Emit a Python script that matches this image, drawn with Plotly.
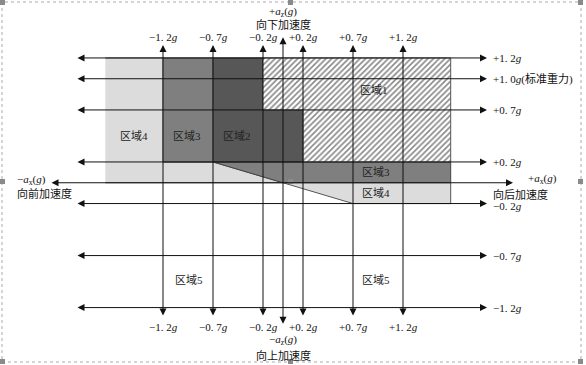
import plotly.graph_objects as go

# ---------------- data (in units of g) ----------------
h_levels = [1.2, 1.0, 0.7, 0.2, -0.2, -0.7, -1.2]
h_labels = ["+1. 2<i>g</i>", "+1. 0<i>g</i>(标准重力)", "+0. 7<i>g</i>", "+0. 2<i>g</i>",
            "−0. 2<i>g</i>", "−0. 7<i>g</i>", "−1. 2<i>g</i>"]
v_levels = [-1.2, -0.7, -0.2, 0.2, 0.7, 1.2]
v_labels = ["−1. 2<i>g</i>", "−0. 7<i>g</i>", "−0. 2<i>g</i>", "+0. 2<i>g</i>",
            "+0. 7<i>g</i>", "+1. 2<i>g</i>"]

region1_x = [-0.2, 1.677, 1.677, 0.2, 0.2, -0.2]
region1_y = [1.2, 1.2, 0.2, 0.2, 0.7, 0.7]
region2_x = [-0.7, -0.2, -0.2, 0.2, 0.2, -0.7]
region2_y = [1.2, 1.2, 0.7, 0.7, 0.2, 0.2]
region3_x = [-1.2, -0.7, -0.7, 1.677, 1.677, 0, -0.7, -1.2]
region3_y = [1.2, 1.2, 0.2, 0.2, 0, 0, 0.2, 0.2]
region4_x = [-1.777, -1.2, -1.2, -0.7, 0, -1.777, None, 0, 0.7, 1.677, 1.677]
region4_y = [1.2, 1.2, 0.2, 0.2, 0, 0, None, 0, -0.2, -0.2, 0]

region_names = ["区域1", "区域2", "区域3", "区域4", "区域3", "区域4", "区域5", "区域5"]
region_lx = [0.91, -0.46, -0.96, -1.49, 0.93, 0.93, -0.94, 0.93]
region_ly = [0.89, 0.45, 0.45, 0.45, 0.1, -0.1, -0.935, -0.935]

# ---------------- figure ----------------
W, H = 586, 365
XR = [-2.83, 3.03]
YR = [-1.752, 1.757]
FONT_LAT = "Liberation Serif, Noto Sans CJK SC"

fig = go.Figure()

fig.add_trace(go.Scatter(x=region4_x, y=region4_y, fill="toself", mode="lines",
                         fillcolor="#dcdcdc", line=dict(color="#555", width=1),
                         hoverinfo="skip"))
fig.add_trace(go.Scatter(x=region3_x, y=region3_y, fill="toself", mode="lines",
                         fillcolor="#7f7f7f", line=dict(color="#444", width=1),
                         hoverinfo="skip"))
fig.add_trace(go.Scatter(x=region2_x, y=region2_y, fill="toself", mode="lines",
                         fillcolor="#575757", line=dict(color="#333", width=1),
                         hoverinfo="skip"))
fig.add_trace(go.Scatter(x=region1_x, y=region1_y, fill="toself", mode="lines",
                         fillcolor="white",
                         fillpattern=dict(shape="/", fgcolor="#111", bgcolor="white",
                                          size=4, solidity=0.4),
                         line=dict(color="#555", width=1), hoverinfo="skip"))

ann = []


def arrow_line(x0, y0, x1, y1, w=1.0):
    ann.append(dict(x=x1, y=y1, ax=x0, ay=y0, xref="x", yref="y", axref="x", ayref="y",
                    text="", showarrow=True, arrowhead=2, arrowside="end+start",
                    arrowsize=1.4, arrowwidth=w, arrowcolor="#111",
                    standoff=0, startstandoff=0))


# horizontal lines with labels
for lv, lb in zip(h_levels, h_labels):
    arrow_line(-2.07, lv, 2.04, lv)
    ly = lv - 0.025 if lv == -0.2 else lv
    ann.append(dict(x=2.08, y=ly, xref="x", yref="y", text=lb, showarrow=False,
                    xanchor="left", yanchor="middle",
                    font=dict(family=FONT_LAT, size=11, color="#111")))

# vertical lines with labels
for lv, lb in zip(v_levels, v_labels):
    arrow_line(lv, -1.29, lv, 1.325)
    for yy in (1.40, -1.387):
        ann.append(dict(x=lv, y=yy, xref="x", yref="y", text=lb, showarrow=False,
                        xanchor="center", yanchor="middle",
                        font=dict(family=FONT_LAT, size=11, color="#111")))

# main axes
arrow_line(-2.33, 0, 2.30, 0)
arrow_line(0, -1.37, 0, 1.40)

# axis titles
axis_texts = [
    (0, 1.642, "+<i>a</i><sub>z</sub>(<i>g</i>)", "center"),
    (0, 1.517, "向下加速度", "center"),
    (0, -1.512, "−<i>a</i><sub>z</sub>(<i>g</i>)", "center"),
    (0, -1.656, "向上加速度", "center"),
    (-2.68, 0.03, "−<i>a</i><sub>x</sub>(<i>g</i>)", "left"),
    (-2.68, -0.10, "向前加速度", "left"),
    (2.59, 0.04, "+<i>a</i><sub>x</sub>(<i>g</i>)", "center"),
    (2.37, -0.11, "向后加速度", "center"),
]
for x, y, t, xa in axis_texts:
    ann.append(dict(x=x, y=y, xref="x", yref="y", text=t, showarrow=False,
                    xanchor=xa, yanchor="middle",
                    font=dict(family=FONT_LAT, size=11, color="#111")))

# region labels
for n, x, y in zip(region_names, region_lx, region_ly):
    ann.append(dict(x=x, y=y, xref="x", yref="y", text=n, showarrow=False,
                    xanchor="center", yanchor="middle",
                    font=dict(family=FONT_LAT, size=11, color="#222")))

# decorative dashed frame with selection handles (paper coords)
shapes = [dict(type="rect", xref="paper", yref="paper",
               x0=2 / W, x1=581 / W, y0=1 - 362 / H, y1=1 - 2 / H,
               line=dict(color="#aaa", width=1, dash="dot"))]
for hx in (0, 288, 578):
    for hy in (0, 179, 359):
        shapes.append(dict(type="rect", xref="paper", yref="paper",
                           x0=hx / W, x1=(hx + 5) / W,
                           y0=1 - (hy + 5) / H, y1=1 - hy / H,
                           fillcolor="#8a8a8a", line=dict(width=0)))

fig.update_layout(
    width=W, height=H, autosize=False,
    margin=dict(l=0, r=0, t=0, b=0),
    paper_bgcolor="white", plot_bgcolor="white",
    showlegend=False,
    xaxis=dict(range=XR, visible=False, fixedrange=True),
    yaxis=dict(range=YR, visible=False, fixedrange=True),
    annotations=ann, shapes=shapes,
)

fig.write_html("out.html", config={"displayModeBar": False},
               post_script="document.body.style.margin='0px';document.body.style.overflow='hidden';")
